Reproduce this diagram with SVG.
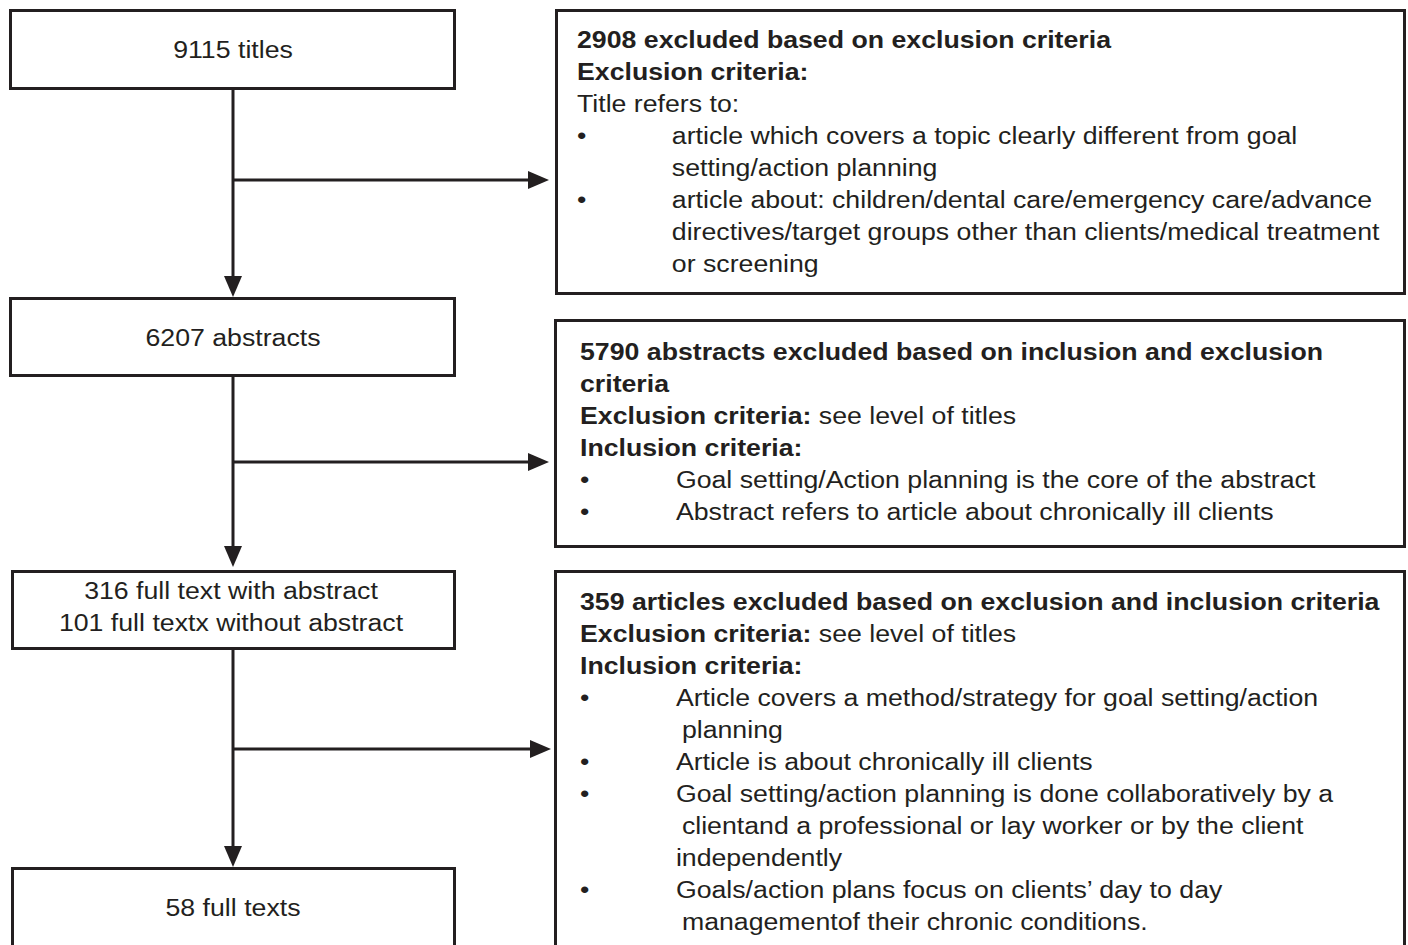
<svg xmlns="http://www.w3.org/2000/svg" width="1408" height="945" viewBox="0 0 1408 945">
<defs>
<style>
.box{fill:#fff;stroke:#231f20;stroke-width:3}
.t{font-family:"Liberation Sans",Arial,sans-serif;font-size:24.5px;fill:#231f20}
.c{text-anchor:middle}
.b{font-weight:bold}
.ln{stroke:#231f20;stroke-width:3;fill:none}
.ah{fill:#231f20}
</style>
</defs>
<rect width="1408" height="945" fill="#fff"/>
<g id="connectors">
<line class="ln" x1="233" y1="89" x2="233" y2="278"/>
<path class="ah" d="M224,276 L242,276 L233,297 Z"/>
<line class="ln" x1="233" y1="180" x2="530" y2="180"/>
<path class="ah" d="M528,171 L528,189 L549,180 Z"/>
<line class="ln" x1="233" y1="376" x2="233" y2="548"/>
<path class="ah" d="M224,546 L242,546 L233,567 Z"/>
<line class="ln" x1="233" y1="462" x2="530" y2="462"/>
<path class="ah" d="M528,453 L528,471 L549,462 Z"/>
<line class="ln" x1="233" y1="649" x2="233" y2="848"/>
<path class="ah" d="M224,846 L242,846 L233,867 Z"/>
<line class="ln" x1="233" y1="749" x2="532" y2="749"/>
<path class="ah" d="M530,740 L530,758 L551,749 Z"/>
</g>
<g id="n-titles">
<rect class="box" x="10.5" y="10.5" width="444" height="78"/>
<g transform="translate(233,0) scale(1.09,1)"><text class="t c" x="0" y="58">9115 titles</text></g>
</g>
<g id="n-abstracts">
<rect class="box" x="10.5" y="298.5" width="444" height="77"/>
<g transform="translate(233,0) scale(1.09,1)"><text class="t c" x="0" y="346">6207 abstracts</text></g>
</g>
<g id="n-fulltext">
<rect class="box" x="12.5" y="571.5" width="442" height="77"/>
<g transform="translate(231,0) scale(1.09,1)">
<text class="t c" x="0" y="599">316 full text with abstract</text>
<text class="t c" x="0" y="631">101 full textx without abstract</text>
</g>
</g>
<g id="n-final">
<rect class="box" x="12.5" y="868.5" width="442" height="100"/>
<g transform="translate(233,0) scale(1.09,1)"><text class="t c" x="0" y="916">58 full texts</text></g>
</g>
<g id="x-titles">
<rect class="box" x="556.5" y="10.5" width="848" height="283"/>
<g transform="translate(577,0) scale(1.09,1)">
<text class="t b" x="0" y="48">2908 excluded based on exclusion criteria</text>
<text class="t b" x="0" y="80">Exclusion criteria:</text>
<text class="t" x="0" y="112">Title refers to:</text>
<text class="t" x="0" y="144">•</text>
<text class="t" x="87" y="144">article which covers a topic clearly different from goal</text>
<text class="t" x="87" y="176">setting/action planning</text>
<text class="t" x="0" y="208">•</text>
<text class="t" x="87" y="208">article about: children/dental care/emergency care/advance</text>
<text class="t" x="87" y="240">directives/target groups other than clients/medical treatment</text>
<text class="t" x="87" y="272">or screening</text>
</g>
</g>
<g id="x-abstracts">
<rect class="box" x="555.5" y="320.5" width="849" height="226"/>
<g transform="translate(580,0) scale(1.09,1)">
<text class="t b" x="0" y="360">5790 abstracts excluded based on inclusion and exclusion</text>
<text class="t b" x="0" y="392">criteria</text>
<text class="t" x="0" y="424"><tspan class="b">Exclusion criteria:</tspan> see level of titles</text>
<text class="t b" x="0" y="456">Inclusion criteria:</text>
<text class="t" x="0" y="488">•</text>
<text class="t" x="88" y="488">Goal setting/Action planning is the core of the abstract</text>
<text class="t" x="0" y="520">•</text>
<text class="t" x="88" y="520">Abstract refers to article about chronically ill clients</text>
</g>
</g>
<g id="x-fulltext">
<rect class="box" x="555.5" y="571.5" width="849" height="400"/>
<g transform="translate(580,0) scale(1.09,1)">
<text class="t b" x="0" y="610">359 articles excluded based on exclusion and inclusion criteria</text>
<text class="t" x="0" y="642"><tspan class="b">Exclusion criteria:</tspan> see level of titles</text>
<text class="t b" x="0" y="674">Inclusion criteria:</text>
<text class="t" x="0" y="706">•</text>
<text class="t" x="88" y="706">Article covers a method/strategy for goal setting/action</text>
<text class="t" x="93.5" y="738">planning</text>
<text class="t" x="0" y="770">•</text>
<text class="t" x="88" y="770">Article is about chronically ill clients</text>
<text class="t" x="0" y="802">•</text>
<text class="t" x="88" y="802">Goal setting/action planning is done collaboratively by a</text>
<text class="t" x="93.5" y="834">clientand a professional or lay worker or by the client</text>
<text class="t" x="88" y="866">independently</text>
<text class="t" x="0" y="898">•</text>
<text class="t" x="88" y="898">Goals/action plans focus on clients’ day to day</text>
<text class="t" x="93.5" y="930">managementof their chronic conditions.</text>
</g>
</g>
</svg>
